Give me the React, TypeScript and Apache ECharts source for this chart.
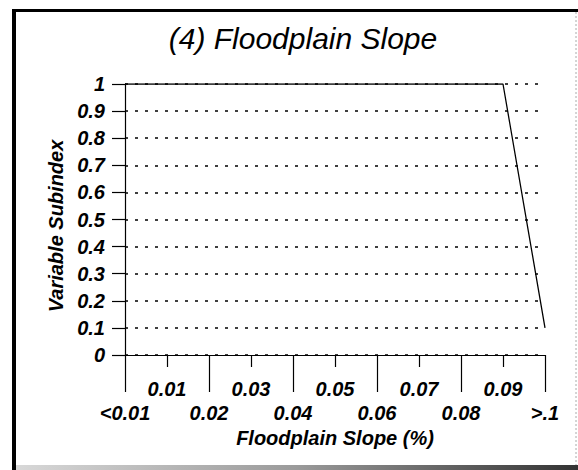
import React, { useEffect, useRef } from "react";
import * as echarts from "echarts";

const titleText = "(4) Floodplain Slope";
const xAxisName = "Floodplain Slope (%)";
const yAxisName = "Variable Subindex";
const slopeValues = [0, 0.09, 0.1];
const subindexValues = [1, 1, 0.1];
const evenTickLabels = ["<0.01", "0.02", "0.04", "0.06", "0.08", ">.1"];
const oddTickLabels = ["0.01", "0.03", "0.05", "0.07", "0.09"];

const FONT = "'Liberation Sans', Arial, Helvetica, sans-serif";

export default function App() {
  const ref = useRef<HTMLDivElement>(null);
  useEffect(() => {
    if (!ref.current) return;
    const chart = echarts.init(ref.current, undefined, { renderer: "svg" });
    const labelStyle = {
      fontFamily: FONT,
      fontSize: 20,
      fontStyle: "italic" as const,
      fontWeight: "bold" as const,
      color: "#000",
    };
    chart.setOption({
      animation: false,
      backgroundColor: "#fff",
      title: {
        text: titleText,
        left: 298,
        top: 18,
        textAlign: "center",
        textStyle: {
          fontFamily: FONT,
          fontSize: 30,
          fontStyle: "italic",
          fontWeight: "normal",
          color: "#000",
        },
      },
      grid: { left: 125, right: 33, top: 84, bottom: 115 },
      xAxis: [
        {
          type: "value",
          position: "bottom",
          min: 0,
          max: 0.1,
          interval: 0.02,
          name: xAxisName,
          nameLocation: "middle",
          nameGap: 70,
          nameTextStyle: { ...labelStyle },
          axisLine: { show: true, lineStyle: { color: "#000", width: 1.2 } },
          axisTick: { show: true, length: 37, lineStyle: { color: "#000", width: 1.2 } },
          minorTick: { show: true, splitNumber: 2, length: 12, lineStyle: { color: "#000", width: 1.2 } },
          splitLine: { show: false },
          axisLabel: {
            ...labelStyle,
            margin: 48,
            formatter: (v: number) => evenTickLabels[Math.round(v / 0.02)] ?? "",
          },
        },
        {
          type: "value",
          position: "bottom",
          min: 0,
          max: 0.1,
          interval: 0.01,
          axisLine: { show: false },
          axisTick: { show: false },
          splitLine: { show: false },
          axisLabel: {
            ...labelStyle,
            margin: 24,
            formatter: (v: number) => {
              const k = Math.round(v / 0.01);
              return k % 2 === 1 ? oddTickLabels[(k - 1) / 2] ?? "" : "";
            },
          },
        },
      ],
      yAxis: {
        type: "value",
        min: 0,
        max: 1,
        interval: 0.1,
        name: yAxisName,
        nameLocation: "middle",
        nameGap: 58,
        nameRotate: 90,
        nameTextStyle: { ...labelStyle, padding: [0, 13, 0, 0] },
        axisLine: { show: true, lineStyle: { color: "#000", width: 1.2 } },
        axisTick: { show: true, length: 13, lineStyle: { color: "#000", width: 1.2 } },
        splitLine: { show: true, lineStyle: { color: "#000", width: 1.5, type: [3, 7] } },
        axisLabel: { ...labelStyle, margin: 20 },
      },
      series: [
        {
          type: "line",
          xAxisIndex: 0,
          yAxisIndex: 0,
          data: slopeValues.map((x, i) => [x, subindexValues[i]]),
          showSymbol: false,
          symbol: "none",
          lineStyle: { color: "#000", width: 1.3 },
        },
      ],
      graphic: [
        { type: "rect", shape: { x: 12, y: 9, width: 4, height: 461 }, style: { fill: "#000" }, silent: true },
        { type: "rect", shape: { x: 12, y: 9, width: 566, height: 3 }, style: { fill: "#000" }, silent: true },
        {
          type: "line",
          shape: { x1: 576, y1: 12, x2: 576, y2: 465 },
          style: { stroke: "#aaa", lineWidth: 1, lineDash: [2, 2] },
          silent: true,
        },
        {
          type: "rect",
          shape: { x: 16, y: 465, width: 562, height: 5 },
          style: {
            fill: new echarts.graphic.LinearGradient(0, 0, 1, 0, [
              { offset: 0, color: "#d8d8d8" },
              { offset: 0.5, color: "#9a9a9a" },
              { offset: 1, color: "#333" },
            ]),
          },
          silent: true,
        },
      ],
    });
    return () => chart.dispose();
  }, []);
  return (
    <div
      ref={ref}
      style={{ position: "fixed", left: 0, top: 0, width: 578, height: 470, background: "#fff" }}
    />
  );
}
